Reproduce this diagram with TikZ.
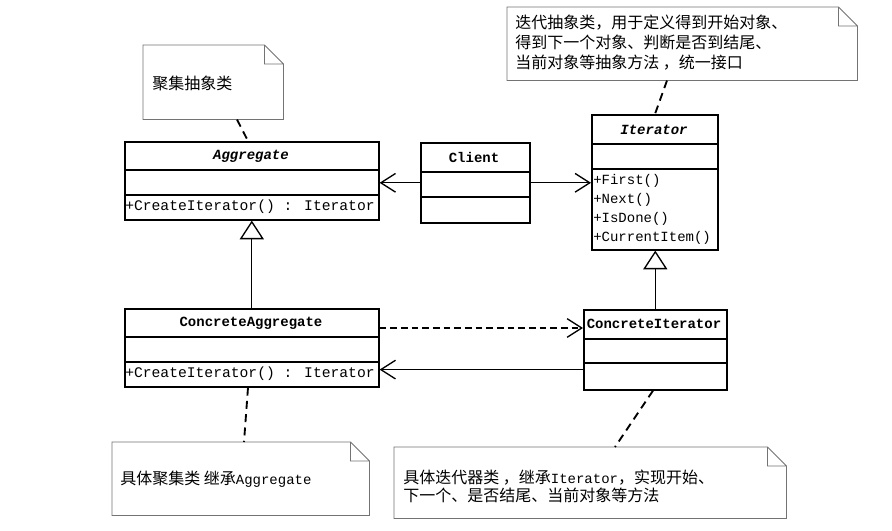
\documentclass[tikz,border=0pt]{standalone}
\usepackage{fontspec}
\setmainfont{Liberation Mono}
\newfontfamily\cjk{Noto Sans CJK SC}
\usetikzlibrary{calc}
\usetikzlibrary{arrows.meta}

\def\u{0.75pt}
% folded-corner outline round a note node
\newcommand{\dognote}[1]{\draw[notel] (#1.north west) -- ($(#1.north east)+(-19,0)$) -- ($(#1.north east)+(0,19)$) -- (#1.south east) -- (#1.south west) -- cycle
  ($(#1.north east)+(-19,0)$) |- ($(#1.north east)+(0,19)$);}

\begin{document}
\begin{tikzpicture}[x=\u,y=-\u,inner sep=0pt,
  box/.style={draw,line width=1.2pt,anchor=north west},
  memo/.style={anchor=north west},
  notel/.style={draw=black!55,line width=0.6pt},
  ctext/.style={font=\fontsize{10.5}{12}\selectfont},
  mtext/.style={font=\fontsize{11}{12}\selectfont,anchor=west},
  ntext/.style={font=\fontsize{12}{15}\selectfont\cjk,align=left,anchor=west},
  assoc/.style={line width=1pt,-{Straight Barb[length=11pt,width=14pt,line width=1pt]}},
  inherit/.style={line width=1pt,-{Triangle[open,length=14pt,width=18pt,line width=1pt,fill=white]}},
  link/.style={line width=1.4pt,dash pattern=on 6pt off 4pt}]
\useasboundingbox[fill=white] (0,0) rectangle (892,531);

% class boxes
\node[box,minimum width=254*\u,minimum height=78*\u] (a1) at (124,141) {};
\node[box,minimum width=109*\u,minimum height=80*\u] (c) at (420,142) {};
\node[box,minimum width=126*\u,minimum height=135*\u] (i1) at (591,114) {};
\node[box,minimum width=254*\u,minimum height=78*\u] (a2) at (124,308) {};
\node[box,minimum width=143*\u,minimum height=80*\u] (i2) at (583,309) {};

\draw[line width=1.2pt] ($(a1.north west)+(0,29)$) -- ($(a1.north east)+(0,29)$);
\draw[line width=1.2pt] ($(a1.north west)+(0,54)$) -- ($(a1.north east)+(0,54)$);
\draw[line width=1.2pt] ($(c.north west)+(0,30)$) -- ($(c.north east)+(0,30)$);
\draw[line width=1.2pt] ($(c.north west)+(0,55)$) -- ($(c.north east)+(0,55)$);
\draw[line width=1.2pt] ($(i1.north west)+(0,30)$) -- ($(i1.north east)+(0,30)$);
\draw[line width=1.2pt] ($(i1.north west)+(0,55)$) -- ($(i1.north east)+(0,55)$);
\draw[line width=1.2pt] ($(a2.north west)+(0,29)$) -- ($(a2.north east)+(0,29)$);
\draw[line width=1.2pt] ($(a2.north west)+(0,54)$) -- ($(a2.north east)+(0,54)$);
\draw[line width=1.2pt] ($(i2.north west)+(0,30)$) -- ($(i2.north east)+(0,30)$);
\draw[line width=1.2pt] ($(i2.north west)+(0,54)$) -- ($(i2.north east)+(0,54)$);

\node[ctext] (a1t) at (251,156) {\bfseries\itshape Aggregate};
\node[mtext] (a1m) at (125,207) {+CreateIterator() : Iterator};
\node[ctext] (ct) at (474,157) {\bfseries Client};
\node[ctext] (i1t) at (654,130) {\bfseries\itshape Iterator};
\node[ctext,anchor=north west,align=left,font=\fontsize{10.5}{14.25}\selectfont] (i1m) at (593,174) {+First()\\+Next()\\+IsDone()\\+CurrentItem()};
\node[ctext] (a2t) at (251,323) {\bfseries ConcreteAggregate};
\node[mtext] (a2m) at (125,374) {+CreateIterator() : Iterator};
\node[ctext] (i2t) at (654,324) {\bfseries ConcreteIterator};

% notes
\node[memo,minimum width=140*\u,minimum height=74*\u] (na1) at (143,45) {};
\node[memo,minimum width=350*\u,minimum height=73*\u] (na2) at (507,7) {};
\node[memo,minimum width=257*\u,minimum height=73*\u] (na3) at (112,442) {};
\node[memo,minimum width=392*\u,minimum height=71*\u] (na4) at (394,447) {};
\dognote{na1}
\dognote{na2}
\dognote{na3}
\dognote{na4}

\node[ntext] (na1t) at (152,83) {聚集抽象类};
\node[ntext] (na2t) at (515,43) {迭代抽象类，用于定义得到开始对象、\\得到下一个对象、判断是否到结尾、\\当前对象等抽象方法 ，统一接口};
\node[ntext] (na3t) at (120,479) {具体聚集类 继承{\rmfamily\fontsize{10.5}{12}\selectfont Aggregate}};
\node[ntext,font=\fontsize{12}{13.5}\selectfont\cjk] (na4t) at (403,486) {具体迭代器类 ，继承{\rmfamily\fontsize{10.5}{12}\selectfont Iterator}，实现开始、\\下一个、是否结尾、当前对象等方法};

% connectors
\draw[assoc] (c.west) -- (c.west -| a1.east);
\draw[assoc] (c.east) -- (c.east -| i1.west);
\draw[inherit] (a2.north) -- (a1.south);
\draw[inherit] (i2.north) -- (i2.north |- i1.south);
\coordinate (p1) at ($(a2.north east)+(0,20)$);
\coordinate (p2) at ($(i2.south west)+(0,-21)$);
\draw[assoc,dash pattern=on 5pt off 3pt] (p1) -- (p1 -| i2.west);
\draw[assoc] (p2) -- (p2 -| a2.east);

\coordinate (q1) at ($(na1.south west)+(94,0)$);
\coordinate (q2) at ($(na2.south west)+(160,0)$);
\coordinate (q3) at ($(na3.north west)+(132,0)$);
\coordinate (q4) at ($(na4.north west)+(221,0)$);
\draw[link] (q1) -- (a1.north -| 248,0);
\draw[link] (q2) -- (i1.north -| 655,0);
\draw[link] (a2.south -| 248,0) -- (q3);
\draw[link] (i2.south -| 653,0) -- (q4);
\end{tikzpicture}
\end{document}
